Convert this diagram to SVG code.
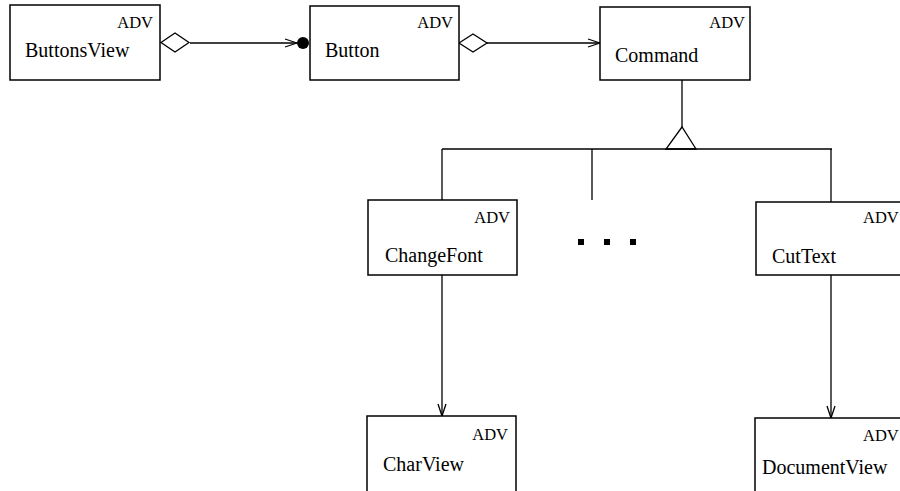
<svg xmlns="http://www.w3.org/2000/svg" width="900" height="491" viewBox="0 0 900 491">
<style>
.box{fill:#fff;stroke:#000;stroke-width:1.5}
.ln{fill:none;stroke:#000;stroke-width:1.3}
.lbl{font-family:"Liberation Serif","Times New Roman",serif;font-size:20px;fill:#000}
.adv{font-family:"Liberation Serif","Times New Roman",serif;font-size:16.5px;fill:#000}
</style>
<defs>
<marker id="open" markerWidth="14" markerHeight="10" refX="13" refY="5" orient="auto" markerUnits="userSpaceOnUse">
<path d="M1,1 L13,5 L1,9" fill="none" stroke="#000" stroke-width="1.3"/>
</marker>
</defs>
<rect width="900" height="491" fill="#fff"/>
<g id="connectors">
<path class="ln" d="M190,43 L297,43" marker-end="url(#open)"/>
<circle cx="303" cy="43" r="6" fill="#000"/>
<polygon points="161,42.5 175,33 189,42.5 175,52" fill="#fff" stroke="#000" stroke-width="1.3"/>
<path class="ln" d="M487,43 L600,43" marker-end="url(#open)"/>
<polygon points="459,43 473,34 487,43 473,52" fill="#fff" stroke="#000" stroke-width="1.3"/>
<path class="ln" d="M682,80 L682,127"/>
<polygon points="682,127 666,149 696,149" fill="#fff" stroke="#000" stroke-width="1.3"/>
<path class="ln" d="M442,149 L832,149"/>
<path class="ln" d="M442,149 L442,200"/>
<path class="ln" d="M592,149 L592,200"/>
<path class="ln" d="M831,149 L831,202"/>
<path class="ln" d="M442,275 L442,416" marker-end="url(#open)"/>
<path class="ln" d="M831,275 L831,418" marker-end="url(#open)"/>
</g>
<g id="ButtonsView">
<rect class="box" x="10" y="5" width="150" height="75"/>
<text class="adv" x="153" y="28" text-anchor="end">ADV</text>
<text class="lbl" x="25" y="57">ButtonsView</text>
</g>
<g id="Button">
<rect class="box" x="310" y="6" width="149" height="74"/>
<text class="adv" x="453" y="28" text-anchor="end">ADV</text>
<text class="lbl" x="325" y="57">Button</text>
</g>
<g id="Command">
<rect class="box" x="600" y="7" width="150" height="73"/>
<text class="adv" x="745" y="28" text-anchor="end">ADV</text>
<text class="lbl" x="615" y="62">Command</text>
</g>
<g id="ChangeFont">
<rect class="box" x="368" y="200" width="149" height="75"/>
<text class="adv" x="510" y="223" text-anchor="end">ADV</text>
<text class="lbl" x="385" y="262">ChangeFont</text>
</g>
<g id="ellipsis">
<rect x="578" y="239" width="6" height="6" fill="#000"/>
<rect x="604" y="239" width="6" height="6" fill="#000"/>
<rect x="630" y="239" width="6" height="6" fill="#000"/>
</g>
<g id="CutText">
<rect class="box" x="756" y="202" width="150" height="73"/>
<text class="adv" x="863" y="223">ADV</text>
<text class="lbl" x="772" y="263">CutText</text>
</g>
<g id="CharView">
<rect class="box" x="367" y="416" width="149" height="80"/>
<text class="adv" x="508" y="440" text-anchor="end">ADV</text>
<text class="lbl" x="383" y="471">CharView</text>
</g>
<g id="DocumentView">
<rect class="box" x="755" y="418" width="150" height="80"/>
<text class="adv" x="863" y="441">ADV</text>
<text class="lbl" x="762" y="474">DocumentView</text>
</g>
</svg>
